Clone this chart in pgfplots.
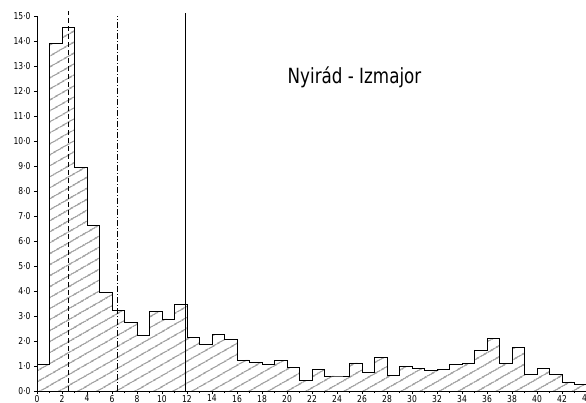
\documentclass[border=0pt]{standalone}
\usepackage{fontspec}
\setmainfont{DejaVu Sans}[FakeStretch=0.8]
\usepackage{pgfplots}
\usepackage{pgfplotstable}
\pgfplotsset{compat=1.18}
\usetikzlibrary{patterns.meta}
\pgfplotstableread{
x y
0 1.05
1 13.9
2 14.55
3 8.95
4 6.63
5 3.95
6 3.22
7 2.74
8 2.22
9 3.17
10 2.88
11 3.46
12 2.15
13 1.87
14 2.27
15 2.07
16 1.24
17 1.15
18 1.07
19 1.23
20 0.93
21 0.41
22 0.88
23 0.60
24 0.60
25 1.12
26 0.75
27 1.33
28 0.62
29 0.97
30 0.89
31 0.81
32 0.87
33 1.07
34 1.11
35 1.64
36 2.11
37 1.11
38 1.73
39 0.65
40 0.91
41 0.65
42 0.36
43 0.25
44 0.25
}\hist
\begin{document}
\begin{tikzpicture}
\begin{axis}[
  name=ax,
  scale only axis,
  width=550bp, height=375bp,
  xmin=0, xmax=44, ymin=0, ymax=15,
  axis x line=bottom, axis y line=left,
  axis line style={-, line width=0.6pt},
  clip=false,
  xtick={0,2,...,44},
  xticklabels={0,2,4,6,8,10,12,14,16,18,20,22,24,26,28,30,32,34,36,38,40,42,44},
  minor xtick={1,3,...,43},
  ytick={0,1,...,15},
  yticklabels={0·0,1·0,2·0,3·0,4·0,5·0,6·0,7·0,8·0,9·0,10·0,11·0,12·0,13·0,14·0,15·0},
  tick align=outside,
  major tick length=3bp, minor tick length=2bp,
  tick style={black, line width=0.5pt},
  ticklabel style={font=\fontsize{9.5}{10}\selectfont},
  xticklabel style={yshift=2.5bp},
  yticklabel style={xshift=0bp},
]
\addplot[ybar interval, draw=none, pattern={Lines[angle=30,distance=9.5bp,line width=0.6pt]}, pattern color=black] table {\hist};
\addplot[const plot, black, line width=0.7pt] table {\hist};
\addplot[black, line width=0.7pt] coordinates {(0,0) (0,1.05)};
\addplot[black, line width=0.7pt] coordinates {(44,0) (44,0.25)};
\addplot[black, line width=0.9pt, dash pattern=on 5bp off 3bp] coordinates {(2.5,0) (2.5,15.2)};
\addplot[black, line width=0.8pt, dash pattern=on 6bp off 2bp on 1bp off 2bp] coordinates {(6.4,0) (6.4,15.0)};
\addplot[black, line width=1.1pt] coordinates {(11.85,0) (11.85,15.1)};
\node[font=\fontsize{21}{24}\selectfont] at (axis cs:25.4,12.55) {Nyirád - Izmajor};
\end{axis}
\pgfresetboundingbox
\path[use as bounding box] ([xshift=-37bp,yshift=-12bp]ax.south west) rectangle ([xshift=-1bp,yshift=16bp]ax.north east);
\end{tikzpicture}
\end{document}
